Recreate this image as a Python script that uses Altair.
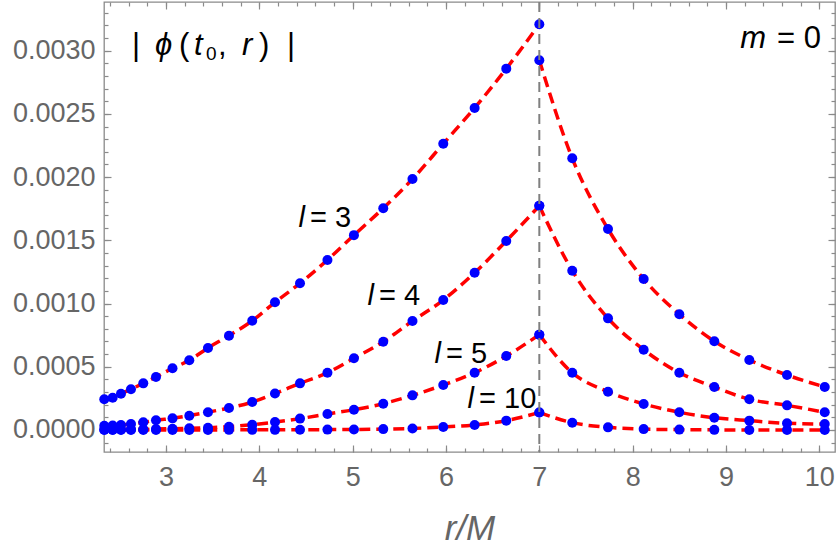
import altair as alt
import pandas as pd

# ---------------- data ----------------
R_LEFT = [2.339, 2.429, 2.518, 2.625, 2.757, 2.893, 3.070, 3.250, 3.450, 3.675,
          3.924, 4.168, 4.436, 4.730, 5.014, 5.328, 5.641, 5.971, 6.307, 6.646, 7.0]
R_RIGHT = [7.0, 7.353, 7.736, 8.118, 8.500, 8.875, 9.250, 9.654, 10.058]

L3_LEFT = [0.000243, 0.000255, 0.000287, 0.000322, 0.000369, 0.000419, 0.000488,
           0.000551, 0.000649, 0.000746, 0.000864, 0.001010, 0.001160, 0.001345,
           0.001541, 0.001754, 0.001985, 0.002264, 0.002547, 0.002858, 0.003209]
L3_RIGHT = [0.002924, 0.002149, 0.001590, 0.001194, 0.000915, 0.000702, 0.000554,
            0.000435, 0.000340]

L4_LEFT = [0.000033, 0.000036, 0.000040, 0.000047, 0.000061, 0.000077, 0.000092,
           0.000113, 0.000141, 0.000174, 0.000221, 0.000289, 0.000369, 0.000453,
           0.000567, 0.000698, 0.000862, 0.001028, 0.001244, 0.001495, 0.001773]
L4_RIGHT = [0.001773, 0.001260, 0.000883, 0.000635, 0.000453, 0.000340, 0.000243,
            0.000195, 0.000140]

L5_LEFT = [0.000003, 0.000003, 0.000004, 0.000005, 0.000006, 0.000008, 0.000010,
           0.000013, 0.000018, 0.000026, 0.000042, 0.000063, 0.000090, 0.000127,
           0.000160, 0.000208, 0.000274, 0.000356, 0.000453, 0.000585, 0.000754]
L5_RIGHT = [0.000754, 0.000453, 0.000303, 0.000206, 0.000140, 0.000097, 0.000074,
            0.000053, 0.000047]

L10_LEFT = [0.0, 0.0, 0.0, 0.0, 0.0, 0.0, 0.0, 0.0, 0.0, 0.000001, 0.000001,
            0.000001, 0.000002, 0.000003, 0.000004, 0.000007, 0.000012, 0.000024,
            0.000040, 0.000074, 0.000138]
L10_RIGHT = [0.000138, 0.000058, 0.000021, 0.000007, 0.000003, 0.000001,
             0.0000005, 0.0000002, 0.0000001]

SERIES = [(3, L3_LEFT, L3_RIGHT), (4, L4_LEFT, L4_RIGHT),
          (5, L5_LEFT, L5_RIGHT), (10, L10_LEFT, L10_RIGHT)]

L_LABELS = ["3", "4", "5", "10"]
L_LABEL_R = [4.500, 5.239, 5.957, 6.311]
L_LABEL_V = [0.001606, 0.000989, 0.000528, 0.000172]

R_SOURCE = [7.0]

X_MAJOR = [3, 4, 5, 6, 7, 8, 9, 10]
X_MINOR = [round(2.4 + 0.2 * i, 1) for i in range(39)]
Y_MAJOR = [0.0, 0.0005, 0.0010, 0.0015, 0.0020, 0.0025, 0.0030]
Y_MINOR = [round(-0.0001 + 0.0001 * i, 4) for i in range(35)]

# ---------------- tables ----------------
rows = []
for l, left, right in SERIES:
    for r, v in zip(R_LEFT, left):
        rows.append(dict(r=r, v=v, l=l, branch=f"{l}L"))
    for r, v in zip(R_RIGHT, right):
        rows.append(dict(r=r, v=v, l=l, branch=f"{l}R"))
df = pd.DataFrame(rows)

lab = pd.DataFrame(dict(r=L_LABEL_R, v=L_LABEL_V,
                        eq=["= " + s for s in L_LABELS], ell=["l"] * 4))
src = pd.DataFrame(dict(r=R_SOURCE))

# ---------------- styling ----------------
FONT = "Liberation Sans"
LBL = "#666666"
TICK = "#8a8a8a"
W, H = 731, 450
XS = alt.Scale(domain=[2.336, 10.168], nice=False, zero=False)
YS = alt.Scale(domain=[-0.000174, 0.003385], nice=False, zero=False)

common = dict(domain=False, grid=False, tickColor=TICK, tickWidth=1.2)


def ax(orient, values, size, **kw):
    return alt.Axis(orient=orient, values=values, tickSize=size, offset=-size,
                    **common, **kw)


no_lab = dict(labels=False, title="")

xb_major = ax("bottom", X_MAJOR, 7, format="d", labelFont=FONT, labelFontSize=27,
              labelColor=LBL, labelPadding=12, labelFlush=False, labelOverlap=False,
              title="r/M", titleFont=FONT, titleFontStyle="italic",
              titleFontWeight="normal", titleFontSize=35, titleColor=LBL,
              titlePadding=21)
yl_major = ax("left", Y_MAJOR, 7, format=".4f", labelFont=FONT, labelFontSize=27,
              labelColor=LBL, labelPadding=9, labelFlush=False, labelOverlap=False,
              title="")
xb_minor = ax("bottom", X_MINOR, 4, **no_lab)
yl_minor = ax("left", Y_MINOR, 4, **no_lab)
xt_major = ax("top", X_MAJOR, 7, **no_lab)
yr_major = ax("right", Y_MAJOR, 7, **no_lab)
xt_minor = ax("top", X_MINOR, 4, **no_lab)
yr_minor = ax("right", Y_MINOR, 4, **no_lab)


def axis_layer(xa, ya):
    return alt.Chart(df).mark_point(opacity=0).encode(
        x=alt.X("r:Q", scale=XS, axis=xa),
        y=alt.Y("v:Q", scale=YS, axis=ya))


axes = [axis_layer(xb_major, yl_major), axis_layer(xb_minor, yl_minor),
        axis_layer(xt_major, yr_major), axis_layer(xt_minor, yr_minor)]

X = alt.X("r:Q", scale=XS, axis=None)
Y = alt.Y("v:Q", scale=YS, axis=None)

lines = alt.Chart(df).mark_line(color="#ff0000", strokeWidth=3.5,
                                strokeDash=[11, 6], interpolate="monotone").encode(
    x=X, y=Y, detail="branch:N", order="r:Q")

points = alt.Chart(df).mark_circle(color="#0000ff", opacity=1, size=100).encode(x=X, y=Y)

vline = alt.Chart(src).mark_rule(color="#808080", strokeWidth=2,
                                 strokeDash=[10, 6]).encode(x=X)

ell = alt.Chart(lab).mark_text(font=FONT, fontSize=29, fontStyle="italic",
                               align="right", baseline="alphabetic", dx=-1,
                               color="black").encode(x=X, y=Y, text="ell:N")
eqs = alt.Chart(lab).mark_text(font=FONT, fontSize=29, align="left",
                               baseline="alphabetic", dx=4,
                               color="black").encode(x=X, y=Y, text="eq:N")

# panel labels (pixel positions inside the plot area)
PX0, PY0 = 104, 2
pieces_norm = pd.DataFrame(dict(
    t=["|", "(", ",", ")", "|", "= 0"],
    px=[136 - PX0, 179 - PX0, 218 - PX0, 259 - PX0, 291 - PX0, 821 - PX0],
    py=[55 - PY0] * 5 + [48 - PY0],
    al=["center", "left", "left", "left", "center", "right"]))
pieces_ital = pd.DataFrame(dict(
    t=["ϕ", "t", "r", "m"],
    px=[155 - PX0, 194 - PX0, 242 - PX0, 766 - PX0],
    py=[55 - PY0, 55 - PY0, 55 - PY0, 48 - PY0]))

PXE = alt.X("px:Q", scale=None, axis=None)
PYE = alt.Y("py:Q", scale=None, axis=None)

norm_layers = []
for a in ["center", "left", "right"]:
    sub = pieces_norm[pieces_norm.al == a]
    norm_layers.append(alt.Chart(sub).mark_text(
        font=FONT, fontSize=31, align=a, baseline="alphabetic", color="black"
    ).encode(x=PXE, y=PYE, text="t:N"))
ital_left = alt.Chart(pieces_ital[pieces_ital.t != "m"]).mark_text(
    font=FONT, fontSize=31, fontStyle="italic", align="left",
    baseline="alphabetic", color="black").encode(x=PXE, y=PYE, text="t:N")
ital_m = alt.Chart(pieces_ital[pieces_ital.t == "m"]).mark_text(
    font=FONT, fontSize=31, fontStyle="italic", align="right",
    baseline="alphabetic", color="black").encode(x=PXE, y=PYE, text="t:N")
sub0 = alt.Chart(pd.DataFrame(dict(t=["0"], px=[206 - PX0], py=[60 - PY0]))).mark_text(
    font=FONT, fontSize=19, align="left", baseline="alphabetic", color="black"
).encode(x=PXE, y=PYE, text="t:N")

chart = alt.layer(
    *axes, lines, points, vline, ell, eqs, *norm_layers, ital_left, ital_m, sub0
).resolve_axis(x="independent", y="independent").properties(
    width=W, height=H,
    autosize=alt.AutoSizeParams(type="none"),
    padding={"left": PX0, "top": PY0, "right": 838 - PX0 - W, "bottom": 546 - PY0 - H},
    background="white",
).configure_view(stroke=TICK, strokeWidth=1.3)

chart.save("out.html", embed_options={"renderer": "svg", "actions": False})
